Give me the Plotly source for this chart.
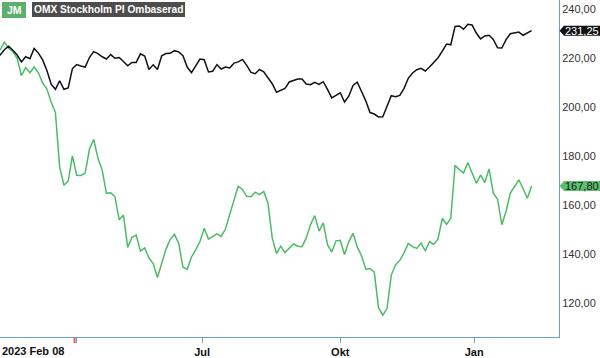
import pandas as pd
import plotly.graph_objects as go

# Swedish exchange holidays in the period (non-trading weekdays)
HOLIDAYS = ["2023-04-07", "2023-04-10", "2023-05-01", "2023-05-18", "2023-06-06",
            "2023-06-23", "2023-12-25", "2023-12-26", "2024-01-01"]
TRADING_DAYS = [d.strftime("%Y-%m-%d") for d in pd.bdate_range("2023-02-08", "2024-02-08")
                if d.strftime("%Y-%m-%d") not in HOLIDAYS]
DATES = TRADING_DAYS[::2]  # every second trading day

OMX = [221.5, 221.3, 223.5, 224.9, 223.3, 221.3, 218.5, 220.6, 219.8, 224.0,
       222.1, 219.3, 215.0, 209.4, 207.3, 210.8, 207.3, 207.9, 215.8, 217.4,
       216.8, 216.4, 220.3, 222.7, 221.9, 220.6, 219.7, 221.5, 220.0, 220.3,
       218.7, 216.9, 218.3, 218.3, 221.8, 220.9, 215.4, 217.3, 215.4, 221.0,
       221.9, 222.0, 223.1, 222.6, 221.0, 216.4, 214.1, 217.2, 219.7, 219.4,
       214.4, 214.7, 217.4, 215.6, 216.4, 216.0, 218.0, 218.5, 219.5, 217.1,
       214.2, 213.7, 215.4, 214.5, 212.0, 209.6, 206.1, 207.0, 207.7, 210.3,
       210.9, 211.5, 211.5, 209.5, 209.2, 210.2, 209.3, 210.4, 207.3, 203.8,
       204.8, 205.9, 202.1, 204.5, 208.9, 210.2, 206.4, 202.6, 197.8, 197.2,
       196.0, 196.1, 200.4, 204.7, 204.3, 204.8, 207.7, 211.8, 214.0, 215.3,
       215.9, 214.8, 216.4, 218.1, 220.2, 222.9, 225.8, 225.5, 233.0, 233.2,
       231.9, 233.9, 233.6, 230.3, 227.9, 229.1, 229.4, 227.7, 224.3, 224.2,
       227.6, 230.0, 230.3, 230.7, 229.4, 230.5, 231.25]

JM = [222.7, 223.5, 226.6, 224.1, 222.7, 220.0, 212.9, 216.2, 214.1, 216.4,
      214.0, 209.9, 207.4, 202.1, 197.8, 175.5, 168.1, 169.8, 180.1, 172.2,
      172.1, 173.1, 182.8, 186.8, 179.2, 174.3, 164.8, 165.0, 163.5, 154.0,
      155.9, 142.7, 146.8, 147.7, 141.2, 142.5, 138.4, 136.1, 130.4, 136.1,
      141.9, 146.0, 148.0, 144.4, 134.6, 133.8, 138.8, 141.7, 145.1, 150.5,
      146.1, 147.2, 148.2, 147.2, 150.2, 156.2, 162.0, 167.7, 166.4, 163.6,
      163.4, 165.3, 164.3, 165.6, 160.8, 146.6, 140.2, 143.2, 140.6, 142.4,
      144.1, 143.2, 143.0, 146.6, 152.0, 155.7, 149.4, 152.7, 143.8, 140.8,
      145.4, 145.6, 139.8, 145.0, 148.5, 142.9, 139.3, 133.8, 134.1, 132.6,
      118.0, 115.0, 117.7, 131.4, 135.6, 137.4, 140.5, 144.3, 143.0, 142.3,
      144.5, 141.3, 145.1, 143.9, 146.3, 154.6, 152.1, 154.7, 176.3, 174.5,
      173.1, 177.4, 173.4, 168.9, 172.3, 169.2, 174.8, 164.9, 162.4, 152.0,
      157.5, 164.9, 167.6, 170.3, 166.8, 162.8, 167.8]

SERIES_NAMES = ["JM", "OMX Stockholm PI Ombaserad"]
X_TICK_DATES = ["2023-04-03", "2023-07-03", "2023-10-02", "2024-01-02"]
X_TICK_TEXT = ["", "Jul", "Okt", "Jan"]
START_LABEL = "2023 Feb 08"
Y_TICKS = [120, 140, 160, 180, 200, 220, 240]
DIVIDEND_DATE = "2023-03-31"

GREEN = "#4dbb65"
BLACK = "#111111"
AXIS = "#6a9fc4"
FONT = "Liberation Sans, Arial, sans-serif"

fig = go.Figure()
fig.add_trace(go.Scatter(x=DATES, y=JM, mode="lines", name=SERIES_NAMES[0],
                         line=dict(color=GREEN, width=1.5)))
fig.add_trace(go.Scatter(x=DATES, y=OMX, mode="lines", name=SERIES_NAMES[1],
                         line=dict(color=BLACK, width=1.5)))

Y_MIN, Y_MAX = 106.1, 243.8
PLOT_W = 559.0

fig.update_layout(
    width=600, height=358,
    margin=dict(l=0, r=600 - PLOT_W, t=0, b=18),
    paper_bgcolor="white", plot_bgcolor="white",
    showlegend=False,
    separators=", ",
    font=dict(family=FONT, size=11, color="#333333"),
    xaxis=dict(
        type="date",
        range=["2023-02-09 22:19", "2024-02-26 21:36"],
        rangebreaks=[dict(bounds=["sat", "mon"]), dict(values=HOLIDAYS)],
        tickvals=X_TICK_DATES,
        ticktext=["<b>%s</b>" % t if t else "" for t in X_TICK_TEXT],
        ticks="outside", ticklen=5, tickcolor=AXIS, tickwidth=1,
        showline=True, linecolor=AXIS, linewidth=1,
        showgrid=False, zeroline=False,
        tickfont=dict(family=FONT, size=11, color="#111111"),
    ),
    yaxis=dict(
        side="right", range=[Y_MIN, Y_MAX],
        tickvals=Y_TICKS, tickformat=".2f",
        ticks="", showline=True, linecolor=AXIS, linewidth=1,
        showgrid=False, zeroline=False,
        tickfont=dict(family=FONT, size=11, color="#333333"),
    ),
)

# start label
fig.add_annotation(xref="paper", yref="paper", x=0, y=0, xanchor="left", yanchor="top",
                   yshift=-6, text="<b>%s</b>" % START_LABEL, showarrow=False,
                   font=dict(family=FONT, size=11, color="#111111"))

# dividend marker below the axis
fig.add_shape(type="line", xref="x", yref="paper", x0=DIVIDEND_DATE, x1=DIVIDEND_DATE,
              y0=-0.002, y1=-0.018, line=dict(color="#ff4d4d", width=2))

# series name tags at top-left
fig.add_annotation(xref="paper", yref="paper", x=0.003, y=0.993, xanchor="left", yanchor="top",
                   text="&nbsp;<b>%s</b>&nbsp;" % SERIES_NAMES[0], showarrow=False,
                   bgcolor="#5cb06c", borderpad=1, bordercolor="#5cb06c", borderwidth=1,
                   font=dict(family=FONT, size=10.5, color="white"))
fig.add_annotation(xref="paper", yref="paper", x=0.0567, y=0.993, xanchor="left", yanchor="top",
                   text="<b>%s</b>" % SERIES_NAMES[1], showarrow=False, bgcolor="#4d4d4d",
                   borderpad=1, bordercolor="#4d4d4d", borderwidth=1,
                   font=dict(family=FONT, size=10.2, color="white"))

# last-value tags on the right axis
def value_tag(v, bg, fg):
    px = 1.0 / PLOT_W
    half = 5.0 / 2.47
    x_tip, x_l, x_r = 1.0 + 0.5 * px, 1.0 + 5 * px, 1.0 + 41 * px
    fig.add_shape(type="path", xref="paper", yref="y",
                  path="M %f,%f L %f,%f L %f,%f L %f,%f L %f,%f Z" % (
                      x_tip, v, x_l, v + half, x_r, v + half, x_r, v - half, x_l, v - half),
                  fillcolor=bg, line=dict(width=0), layer="above")
    fig.add_annotation(xref="paper", yref="y", x=1.0 + 23 * px, y=v, xanchor="center",
                       yanchor="middle", showarrow=False,
                       text=("%.2f" % v).replace(".", ","),
                       font=dict(family=FONT, size=11, color=fg))

value_tag(OMX[-1], "#111111", "white")
value_tag(JM[-1], "#5cbf6e", "#1a1a1a")

fig.write_html("out.html", config={"displayModeBar": False},
               post_script="document.body.style.margin='0';")
